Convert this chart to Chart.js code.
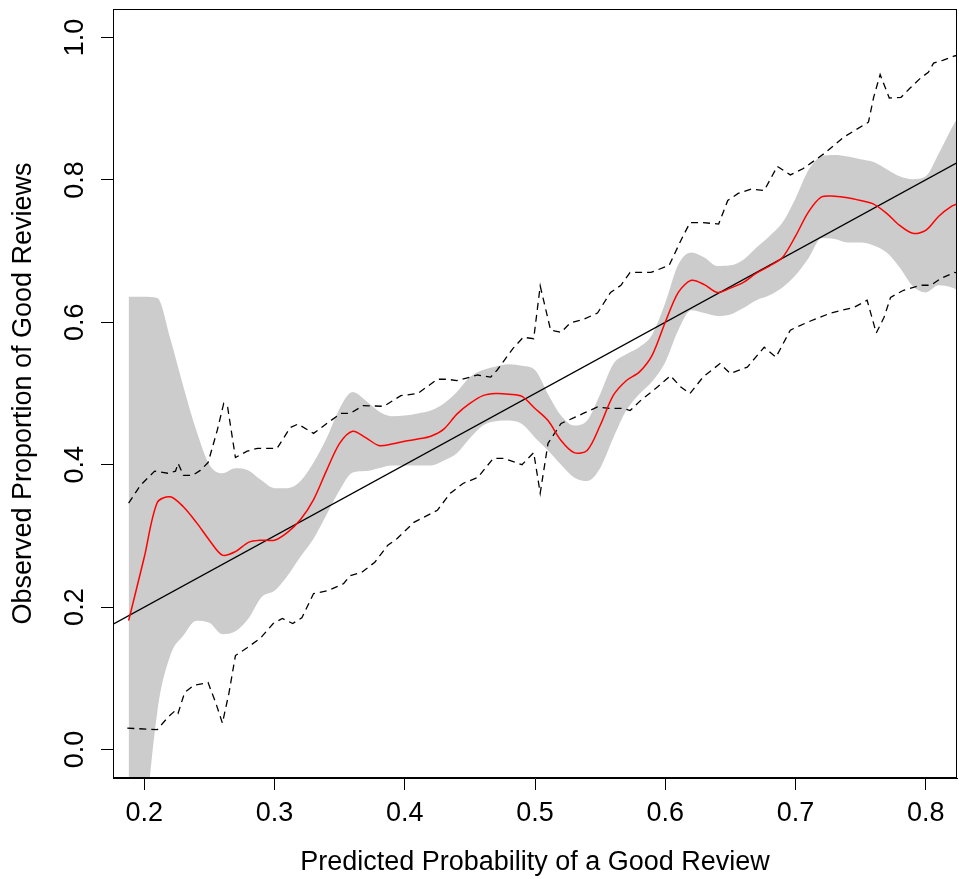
<!DOCTYPE html>
<html>
<head>
<meta charset="utf-8">
<script src="https://cdn.jsdelivr.net/npm/chart.js@4"></script>
<style>
  html, body { margin: 0; padding: 0; background: #fff; }
  #wrap { width: 959px; height: 879px; }
</style>
</head>
<body>
<div id="wrap"><canvas id="calib" width="959" height="879"></canvas></div>
<script>
// axis ranges and ticks
const xTicks = [0.2, 0.3, 0.4, 0.5, 0.6, 0.7, 0.8];
const xTickLabels = ['0.2', '0.3', '0.4', '0.5', '0.6', '0.7', '0.8'];
const yTicks = [0, 0.2, 0.4, 0.6, 0.8, 1.0];
const yTickLabels = ['0.0', '0.2', '0.4', '0.6', '0.8', '1.0'];

// smooth fit and its grey band share one x grid
const smoothX = [0.188, 0.20, 0.21, 0.22, 0.23, 0.24, 0.25, 0.26, 0.27, 0.28, 0.29,
  0.30, 0.31, 0.32, 0.33, 0.34, 0.35, 0.36, 0.37, 0.38, 0.39,
  0.40, 0.41, 0.42, 0.43, 0.44, 0.45, 0.46, 0.47, 0.48, 0.49,
  0.50, 0.51, 0.52, 0.53, 0.54, 0.55, 0.56, 0.57, 0.58, 0.59,
  0.60, 0.61, 0.62, 0.63, 0.64, 0.65, 0.66, 0.67, 0.68, 0.69,
  0.70, 0.71, 0.72, 0.73, 0.74, 0.75, 0.76, 0.77, 0.78, 0.79,
  0.80, 0.81, 0.82, 0.825];
const fitY = [0.181, 0.270, 0.347, 0.355, 0.341, 0.319, 0.294, 0.273, 0.278, 0.291, 0.294,
  0.294, 0.305, 0.323, 0.351, 0.392, 0.430, 0.447, 0.438, 0.427, 0.429,
  0.433, 0.436, 0.440, 0.450, 0.471, 0.486, 0.497, 0.500, 0.499, 0.496,
  0.479, 0.462, 0.434, 0.417, 0.420, 0.455, 0.497, 0.518, 0.530, 0.554,
  0.600, 0.642, 0.659, 0.653, 0.642, 0.648, 0.656, 0.669, 0.679, 0.691,
  0.721, 0.755, 0.776, 0.777, 0.775, 0.771, 0.766, 0.753, 0.736, 0.725,
  0.729, 0.749, 0.763, 0.767];
const bandUpper = [0.636, 0.636, 0.634, 0.577, 0.510, 0.448, 0.400, 0.388, 0.395, 0.392, 0.378,
  0.367, 0.367, 0.377, 0.403, 0.437, 0.479, 0.502, 0.490, 0.475, 0.468,
  0.469, 0.472, 0.476, 0.486, 0.502, 0.523, 0.533, 0.538, 0.541, 0.539,
  0.533, 0.499, 0.469, 0.455, 0.462, 0.499, 0.541, 0.555, 0.565, 0.583,
  0.627, 0.681, 0.698, 0.691, 0.679, 0.680, 0.688, 0.705, 0.721, 0.740,
  0.774, 0.814, 0.833, 0.835, 0.833, 0.829, 0.825, 0.815, 0.805, 0.801,
  0.805, 0.837, 0.873, 0.889];
const bandLower = [-0.45, -0.13, 0.052, 0.132, 0.160, 0.181, 0.178, 0.162, 0.166, 0.184, 0.214,
  0.223, 0.244, 0.271, 0.296, 0.330, 0.364, 0.389, 0.391, 0.395, 0.399,
  0.399, 0.399, 0.399, 0.406, 0.416, 0.437, 0.455, 0.461, 0.462, 0.457,
  0.438, 0.420, 0.400, 0.382, 0.377, 0.395, 0.437, 0.476, 0.499, 0.517,
  0.544, 0.589, 0.617, 0.613, 0.609, 0.611, 0.620, 0.631, 0.638, 0.649,
  0.666, 0.690, 0.718, 0.717, 0.712, 0.712, 0.708, 0.698, 0.677, 0.651,
  0.642, 0.652, 0.649, 0.645];

// dashed upper and lower envelopes
const upperDashX = [0.188, 0.197, 0.208, 0.218, 0.224, 0.226, 0.230, 0.237, 0.243, 0.249, 0.256,
  0.261, 0.264, 0.270, 0.279, 0.287, 0.302, 0.312, 0.318, 0.330, 0.341, 0.351, 0.358,
  0.368, 0.384, 0.397, 0.410, 0.425, 0.433, 0.440, 0.456, 0.466, 0.471, 0.483, 0.491,
  0.499, 0.504, 0.512, 0.520, 0.527, 0.537, 0.548, 0.558, 0.566, 0.573, 0.589, 0.603,
  0.612, 0.619, 0.629, 0.641, 0.648, 0.656, 0.666, 0.676, 0.686, 0.696, 0.706, 0.722,
  0.737, 0.756, 0.760, 0.765, 0.772, 0.781, 0.788, 0.796, 0.802, 0.806, 0.813, 0.822, 0.825];
const upperDashY = [0.346, 0.371, 0.391, 0.388, 0.391, 0.402, 0.385, 0.385, 0.392, 0.403, 0.448,
  0.486, 0.481, 0.410, 0.419, 0.423, 0.423, 0.452, 0.457, 0.444, 0.459, 0.472, 0.472,
  0.483, 0.482, 0.497, 0.500, 0.520, 0.520, 0.518, 0.526, 0.523, 0.533, 0.563, 0.579,
  0.577, 0.651, 0.589, 0.586, 0.599, 0.604, 0.613, 0.642, 0.652, 0.670, 0.670, 0.680,
  0.715, 0.740, 0.740, 0.738, 0.771, 0.781, 0.787, 0.785, 0.819, 0.807, 0.816, 0.837,
  0.860, 0.881, 0.916, 0.948, 0.915, 0.916, 0.929, 0.943, 0.951, 0.964, 0.968, 0.974, 0.975];
const lowerDashX = [0.187, 0.210, 0.218, 0.224, 0.226, 0.231, 0.238, 0.249, 0.255, 0.260, 0.265,
  0.270, 0.279, 0.289, 0.299, 0.306, 0.314, 0.321, 0.330, 0.341, 0.353, 0.358, 0.367,
  0.377, 0.387, 0.394, 0.407, 0.425, 0.435, 0.445, 0.456, 0.468, 0.476, 0.490, 0.499,
  0.504, 0.510, 0.520, 0.530, 0.537, 0.548, 0.558, 0.568, 0.573, 0.581, 0.594, 0.604,
  0.612, 0.619, 0.629, 0.642, 0.650, 0.663, 0.676, 0.685, 0.696, 0.709, 0.727, 0.745,
  0.755, 0.762, 0.768, 0.773, 0.783, 0.796, 0.804, 0.812, 0.822, 0.825];
const lowerDashY = [0.030, 0.028, 0.045, 0.055, 0.051, 0.080, 0.090, 0.094, 0.065, 0.037, 0.079,
  0.132, 0.143, 0.156, 0.177, 0.184, 0.177, 0.185, 0.219, 0.223, 0.233, 0.244, 0.249,
  0.263, 0.287, 0.296, 0.319, 0.336, 0.360, 0.374, 0.382, 0.409, 0.409, 0.400, 0.417,
  0.360, 0.430, 0.458, 0.466, 0.472, 0.481, 0.479, 0.479, 0.476, 0.490, 0.509, 0.525,
  0.509, 0.500, 0.523, 0.542, 0.528, 0.537, 0.565, 0.551, 0.589, 0.600, 0.613, 0.621,
  0.631, 0.585, 0.607, 0.635, 0.645, 0.652, 0.652, 0.662, 0.670, 0.669];

// 45 degree reference line
const refX = [0.1, 0.9];
const refY = [0.1, 0.9];

const FONT = '"Liberation Sans", Arial, Helvetica, sans-serif';

function pts(xs, ys) {
  return xs.map((x, i) => ({ x: x, y: ys[i] }));
}

// frame round the plot region
const frameBox = {
  id: 'frameBox',
  afterDraw(chart) {
    const { ctx, chartArea: a } = chart;
    ctx.save();
    ctx.strokeStyle = '#000';
    ctx.lineWidth = 1;
    ctx.strokeRect(Math.round(a.left) + 0.5, Math.round(a.top) + 0.5,
      Math.round(a.right - a.left) - 1, Math.round(a.bottom - a.top) - 1);
    ctx.restore();
  }
};

// R style y tick labels, turned parallel to the axis
const yTickText = {
  id: 'yTickText',
  afterDraw(chart) {
    const { ctx, chartArea } = chart;
    const y = chart.scales.y;
    ctx.save();
    ctx.fillStyle = '#000';
    ctx.font = '27px ' + FONT;
    ctx.textAlign = 'center';
    ctx.textBaseline = 'alphabetic';
    y.ticks.forEach((t, i) => {
      ctx.save();
      ctx.translate(chartArea.left - 30, y.getPixelForValue(t.value));
      ctx.rotate(-Math.PI / 2);
      ctx.fillText(yTickLabels[i], 0, 0);
      ctx.restore();
    });
    ctx.restore();
  }
};

new Chart(document.getElementById('calib'), {
  type: 'line',
  data: {
    datasets: [
      {
        data: pts(smoothX, fitY),
        borderColor: '#ff0000',
        borderWidth: 1.5,
        pointRadius: 0,
        tension: 0.3,
        fill: false
      },
      {
        data: pts(refX, refY),
        borderColor: '#000',
        borderWidth: 1.2,
        pointRadius: 0,
        fill: false
      },
      {
        data: pts(upperDashX, upperDashY),
        borderColor: '#000',
        borderWidth: 1.3,
        borderDash: [7, 5],
        pointRadius: 0,
        tension: 0,
        fill: false
      },
      {
        data: pts(lowerDashX, lowerDashY),
        borderColor: '#000',
        borderWidth: 1.3,
        borderDash: [7, 5],
        pointRadius: 0,
        tension: 0,
        fill: false
      },
      {
        data: pts(smoothX, bandUpper),
        borderWidth: 0,
        borderColor: 'rgba(0,0,0,0)',
        backgroundColor: '#cccccc',
        pointRadius: 0,
        cubicInterpolationMode: 'monotone',
        fill: '+1'
      },
      {
        data: pts(smoothX, bandLower),
        borderWidth: 0,
        borderColor: 'rgba(0,0,0,0)',
        pointRadius: 0,
        cubicInterpolationMode: 'monotone',
        fill: false
      }
    ]
  },
  options: {
    responsive: false,
    animation: false,
    devicePixelRatio: 1,
    layout: { padding: { top: 9, right: 2, left: 0, bottom: 0 } },
    plugins: {
      legend: { display: false },
      tooltip: { enabled: false }
    },
    scales: {
      x: {
        type: 'linear',
        min: 0.176,
        max: 0.824,
        afterBuildTicks: (s) => { s.ticks = xTicks.map(v => ({ value: v })); },
        afterFit: (s) => { s.height = 101; },
        ticks: {
          color: '#000',
          font: { family: FONT, size: 27 },
          padding: 7,
          maxRotation: 0,
          autoSkip: false,
          callback: (v, i) => xTickLabels[i]
        },
        grid: { display: true, drawOnChartArea: false, drawTicks: true, tickLength: 12, color: '#000', lineWidth: 1 },
        border: { display: true, color: '#000' },
        title: {
          display: true,
          text: 'Predicted Probability of a Good Review',
          color: '#000',
          font: { family: FONT, size: 27 },
          padding: { top: 0, bottom: 0 }
        }
      },
      y: {
        type: 'linear',
        min: -0.04,
        max: 1.04,
        afterBuildTicks: (s) => { s.ticks = yTicks.map(v => ({ value: v })); },
        afterFit: (s) => { s.width = 113; },
        ticks: { display: false },
        grid: { display: true, drawOnChartArea: false, drawTicks: true, tickLength: 12, color: '#000', lineWidth: 1 },
        border: { display: true, color: '#000' },
        title: {
          display: true,
          text: 'Observed Proportion of Good Reviews',
          color: '#000',
          font: { family: FONT, size: 27 },
          padding: { top: 7, bottom: 0 }
        }
      }
    }
  },
  plugins: [frameBox, yTickText]
});
</script>
</body>
</html>
